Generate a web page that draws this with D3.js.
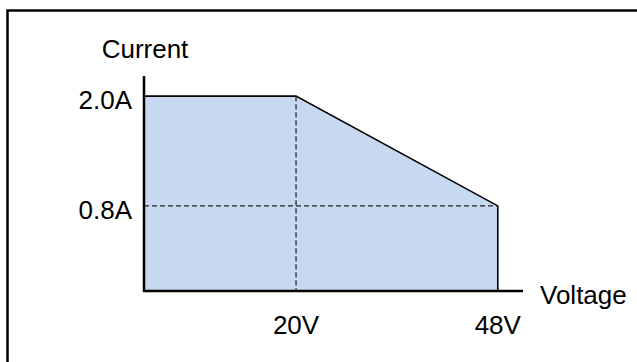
<!DOCTYPE html>
<html>
<head>
<meta charset="utf-8">
<script src="https://cdn.jsdelivr.net/npm/d3@7"></script>
<style>
  html, body { margin: 0; padding: 0; background: #fff; }
  svg { display: block; }
  text { font-family: Arial, "Liberation Sans", sans-serif; font-size: 26px; fill: #000; }
</style>
</head>
<body>
<div id="chart-area"></div>
<script>
// data
var voltages = [20, 48];
var currents = [2.0, 0.8];
var voltLabels = ["20V", "48V"];
var currLabels = ["2.0A", "0.8A"];
var vDomain = [-1.1, 51.5];   // voltage axis extent
var cDomain = [-0.13, 2.22];  // current axis extent

var svg = d3.select("#chart-area").append("svg")
    .attr("width", 637)
    .attr("height", 362);

// frame (right and bottom edges fall outside the picture)
svg.append("rect")
    .attr("x", 7.5)
    .attr("y", 10.5)
    .attr("width", 660)
    .attr("height", 380)
    .attr("fill", "none")
    .attr("stroke", "#000")
    .attr("stroke-width", 2.5);

var x = d3.scaleLinear().domain(vDomain).range([144, 523]);
var y = d3.scaleLinear().domain(cDomain).range([291, 76]);

var v0 = vDomain[0], c0 = cDomain[0];

// operating area
var pts = [[v0, currents[0]]]
    .concat(voltages.map((v, i) => [v, currents[i]]))
    .concat([[voltages[voltages.length - 1], c0], [v0, c0]]);

svg.append("path")
    .attr("d", d3.line().x(d => x(d[0])).y(d => y(d[1]))(pts))
    .attr("fill", "#c6d9f0")
    .attr("stroke", "none");

// outline: top, slope and right edge
var outline = pts.slice(0, pts.length - 1);
svg.append("path")
    .attr("d", d3.line().x(d => x(d[0])).y(d => y(d[1]))(outline))
    .attr("fill", "none")
    .attr("stroke", "#000")
    .attr("stroke-width", 1.6);

// dashed guides
svg.append("line")
    .attr("x1", x(voltages[0])).attr("x2", x(voltages[0]))
    .attr("y1", y(currents[0])).attr("y2", y(c0))
    .attr("stroke", "#222").attr("stroke-width", 1.3)
    .attr("stroke-dasharray", "5,3");

svg.append("line")
    .attr("x1", x(v0)).attr("x2", x(voltages[1]))
    .attr("y1", y(currents[1])).attr("y2", y(currents[1]))
    .attr("stroke", "#222").attr("stroke-width", 1.3)
    .attr("stroke-dasharray", "5,3");

// axes
svg.append("line")
    .attr("x1", x(v0)).attr("x2", x(v0))
    .attr("y1", y(cDomain[1])).attr("y2", y(c0) + 1)
    .attr("stroke", "#000").attr("stroke-width", 2.5);

svg.append("line")
    .attr("x1", x(v0) - 1).attr("x2", x(vDomain[1]))
    .attr("y1", y(c0)).attr("y2", y(c0))
    .attr("stroke", "#000").attr("stroke-width", 2.5);

// labels
svg.append("text")
    .attr("x", x(v0) + 1)
    .attr("y", 58)
    .attr("text-anchor", "middle")
    .text("Current");

svg.append("text")
    .attr("x", x(vDomain[1]) + 17)
    .attr("y", y(c0) + 13)
    .attr("text-anchor", "start")
    .text("Voltage");

svg.selectAll(".ylab")
    .data(currents)
    .enter()
    .append("text")
    .attr("class", "ylab")
    .attr("x", x(v0) - 12)
    .attr("y", d => y(d) + 13)
    .attr("text-anchor", "end")
    .text((d, i) => currLabels[i]);

svg.selectAll(".xlab")
    .data(voltages)
    .enter()
    .append("text")
    .attr("class", "xlab")
    .attr("x", d => x(d))
    .attr("y", y(c0) + 43)
    .attr("text-anchor", "middle")
    .text((d, i) => voltLabels[i]);
</script>
</body>
</html>
